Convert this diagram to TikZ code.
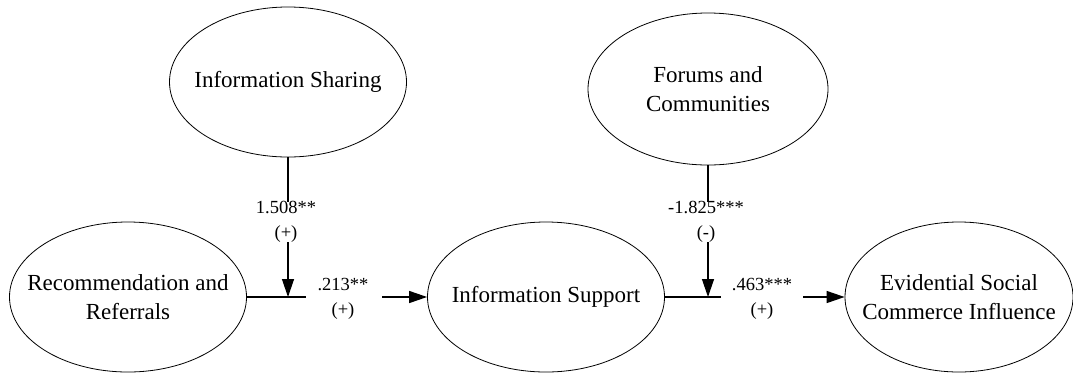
\documentclass[tikz,border=0pt]{standalone}
\usepackage{fontspec}
\setmainfont{Liberation Serif}
\usetikzlibrary{shapes.geometric,arrows.meta}
\begin{document}
\begin{tikzpicture}[x=1pt,y=-1pt,
  construct/.style={ellipse,draw,line width=0.8pt,minimum width=237pt,minimum height=150pt,
    inner xsep=-20pt,inner ysep=0pt,align=center,font=\fontsize{23}{29}\selectfont},
  coef/.style={align=center,font=\fontsize{18.5}{25}\selectfont,inner xsep=1pt,inner ysep=-1pt},
  coefbox/.style={coef,fill=white},
  pathline/.style={line width=1.3pt},
  arr/.style={pathline,-{Triangle[length=18pt,width=12pt]}}]
\useasboundingbox (0,0) rectangle (1073,373);

\node[construct] (is) at (288,82) {Information Sharing};
\node[construct,minimum width=240pt,minimum height=152pt] (fc) at (708,89) {Forums and\\Communities};
\node[construct] (rec) at (128,297) {Recommendation and\\Referrals};
\node[construct] (isup) at (546,297) {Information Support};
\node[construct,minimum width=228pt] (esci) at (959,297) {Evidential Social\\Commerce Influence};

\coordinate (j1) at (288,297);
\coordinate (j1e) at (306,297);
\coordinate (a1) at (382,297);
\coordinate (j2) at (708,297);
\coordinate (j2e) at (721,297);
\coordinate (a2) at (803,297);

\draw[pathline] (rec.east) -- (j1e);
\draw[arr] (is.south) -- (j1);
\node[coefbox] (c1) at (286,222) {1.508**\\(+)};
\node[coef] (c2) at (343,299) {.213**\\(+)};
\draw[arr] (a1) -- (isup.west);

\draw[pathline] (isup.east) -- (j2e);
\draw[arr] (fc.south) -- (j2);
\node[coefbox] (c3) at (706,222) {-1.825***\\(-)};
\node[coef] (c4) at (762,299) {.463***\\(+)};
\draw[arr] (a2) -- (esci.west);
\end{tikzpicture}
\end{document}
